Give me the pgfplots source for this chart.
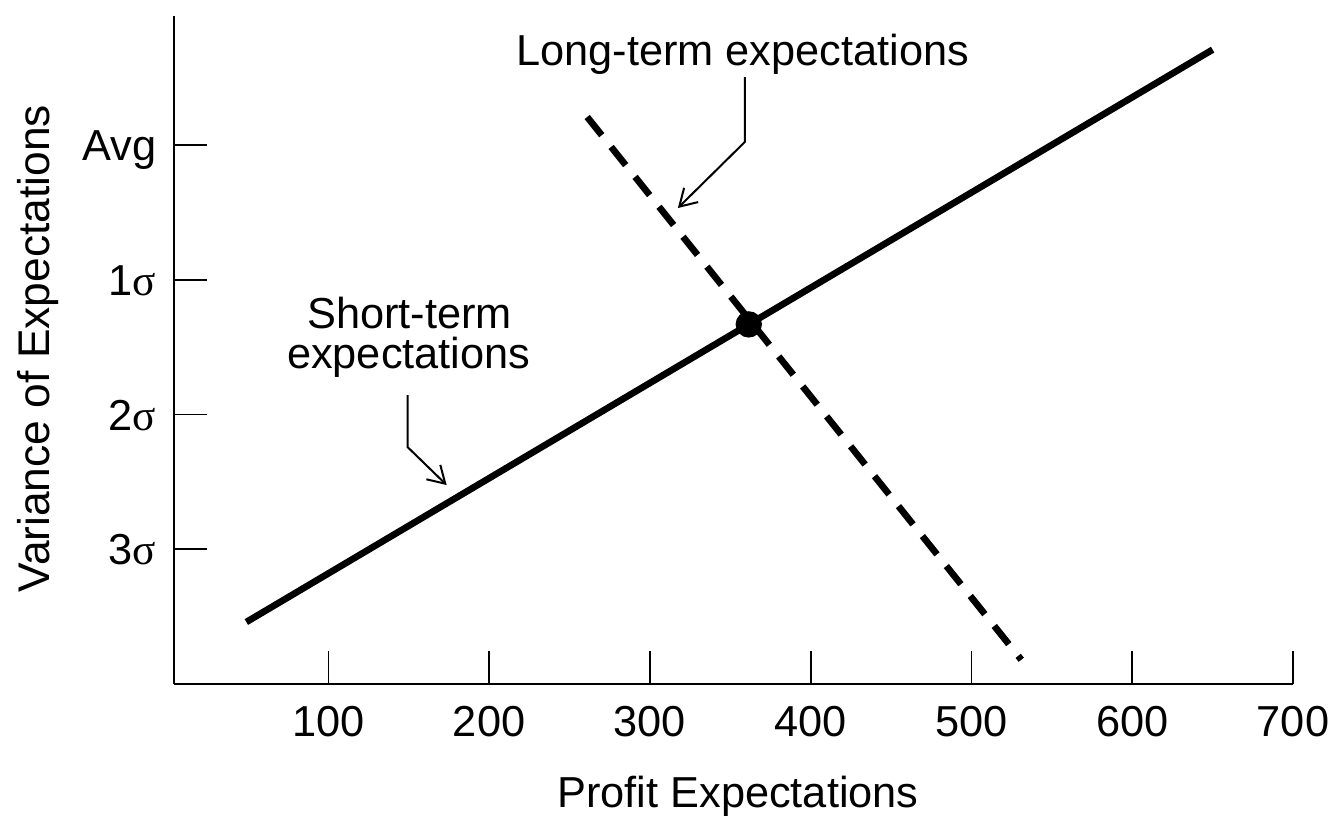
\documentclass[border=0pt]{standalone}
\usepackage{pgfplots}
\pgfplotsset{compat=1.18}
\usepackage{fontspec}
\setmainfont{Liberation Sans}
\newfontfamily\seriffont{Liberation Serif}
\usetikzlibrary{arrows.meta}
\newcommand{\sg}{{\seriffont σ}}
\begin{document}
\fontsize{13}{15.6}\selectfont
\begin{tikzpicture}[font=\fontsize{13}{15.6}\selectfont]
\begin{axis}[
  scale only axis, width=335.7pt, height=200.4pt,
  axis lines*=left,
  xmin=4, xmax=700, ymin=0, ymax=4.96,
  xtick={100,200,...,700}, ytick={1,2,3,4},
  yticklabels={3\sg,2\sg,1\sg,Avg},
  tick align=inside, major tick length=10pt,
  axis line style={line width=0.8pt, black},
  tick style={line width=0.5pt, black},
  /pgf/number format/assume math mode=true,
  tick label style={font=\fontsize{13}{15.6}\selectfont},
  label style={font=\fontsize{13}{15.6}\selectfont},
  xticklabel style={anchor=base, inner sep=0pt, yshift=-15.9pt},
  yticklabel style={anchor=base east, inner sep=0pt, xshift=-5.1pt, yshift=-4.65pt},
  xlabel={Profit Expectations},
  ylabel={Variance of Expectations},
  xlabel style={at={(axis description cs:0.504,-0.1856)}, anchor=base, inner sep=0pt},
  ylabel style={at={(axis description cs:-0.1215,0.502)}, anchor=center, inner sep=0pt, font=\fontsize{13.3}{16}\selectfont},
  clip=false,
]
\addplot[line width=2pt, black] coordinates {(49,0.46) (650,4.71)};
\addplot[line width=2pt, black, dash pattern=on 7pt off 4.5pt] coordinates {(261,4.21) (531,0.18)};
\addplot[only marks, mark=*, mark size=3.75pt, black] coordinates {(361.5,2.67)};
\node[anchor=base, inner sep=0pt] at (axis cs:357.8,4.595) {Long-term expectations};
\draw[line width=0.6pt, -{Straight Barb[length=5pt,width=6pt]}] (axis cs:359,4.506) -- (axis cs:359,4.024) -- (axis cs:317.4,3.534);
\node[anchor=base, inner sep=0pt] at (axis cs:150.6,2.643) {Short-term};
\node[anchor=base, inner sep=0pt] at (axis cs:150,2.346) {expectations};
\draw[line width=0.6pt, -{Straight Barb[length=5pt,width=6pt]}] (axis cs:149.3,2.145) -- (axis cs:149.3,1.759) -- (axis cs:173.6,1.477);
\end{axis}
\pgfresetboundingbox
\useasboundingbox (-52.2pt,-43.2pt) rectangle (346.5pt,205.2pt);
\end{tikzpicture}
\end{document}
